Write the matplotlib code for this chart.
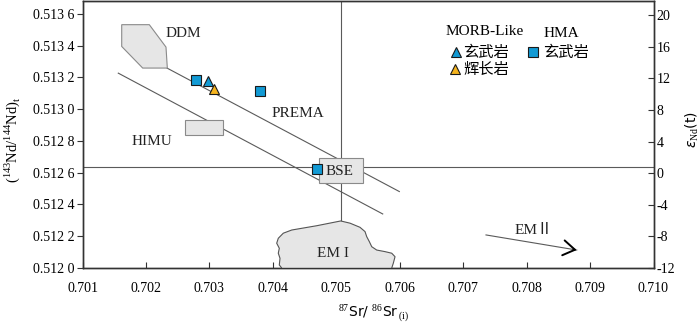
import numpy as np
import matplotlib.pyplot as plt
from matplotlib.patches import Polygon, Rectangle
from matplotlib.ticker import FuncFormatter

plt.rcParams['font.family'] = ['Liberation Serif', 'Noto Sans CJK SC', 'DejaVu Sans']
plt.rcParams['mathtext.fontset'] = 'custom'
plt.rcParams['mathtext.rm'] = 'Liberation Serif'
plt.rcParams['axes.unicode_minus'] = False

# samples
sr_hma = [0.70279, 0.70380, 0.70469]
nd_hma = [0.513182, 0.513113, 0.512622]
sr_morb_basalt = [0.70298]
nd_morb_basalt = [0.513176]
sr_morb_gabbro = [0.70308]
nd_morb_gabbro = [0.513126]

# reference fields
ddm_sr = [0.701618, 0.702053, 0.702316, 0.702337, 0.701949, 0.701618]
ddm_nd = [0.513531, 0.513531, 0.513390, 0.513258, 0.513258, 0.513394]
himu_sr = [0.702608, 0.703219]
himu_nd = [0.512836, 0.512929]
bse_sr = [0.704728, 0.705426]
bse_nd = [0.512534, 0.512691]
em1_sr = [0.704140, 0.704102, 0.704113, 0.704086, 0.704102, 0.704061, 0.704086,
          0.704165, 0.704298, 0.704692, 0.705070, 0.705217, 0.705374, 0.705453,
          0.705480, 0.705521, 0.705559, 0.705637, 0.705768, 0.705874, 0.705926,
          0.705899, 0.705874]
em1_nd = [0.512000, 0.512019, 0.512061, 0.512093, 0.512124, 0.512156, 0.512187,
          0.512219, 0.512239, 0.512266, 0.512296, 0.512282, 0.512256, 0.512229,
          0.512197, 0.512166, 0.512134, 0.512113, 0.512103, 0.512093, 0.512071,
          0.512030, 0.512000]
upper_sr = [0.702332, 0.705994]
upper_nd = [0.513258, 0.512481]
lower_sr = [0.701564, 0.705732]
lower_nd = [0.513226, 0.512340]
bse_line_sr = 0.70507
bse_line_nd = 0.512633
em2_sr = [0.707360, 0.708790]
em2_nd = [0.512208, 0.512113]

blue = '#129ad4'
yellow = '#f5b41e'
gray_fill = '#e6e6e6'
gray_edge = '#8a8a8a'
line_c = '#5a5a5a'

fig = plt.figure(figsize=(7, 3.26), dpi=100)
ax = fig.add_axes([82.5 / 700, 58 / 326, 571 / 700, 267 / 326])
ax.set_xlim(0.701, 0.710)
ax.set_ylim(0.512, 0.51368)

# mantle array lines
ax.plot(upper_sr, upper_nd, color=line_c, lw=0.8, zorder=2)
ax.plot(lower_sr, lower_nd, color=line_c, lw=0.8, zorder=2)
ax.axhline(bse_line_nd, color=line_c, lw=0.8, zorder=2)
ax.plot([bse_line_sr, bse_line_sr], [0.51368, em1_nd[10]], color=line_c, lw=0.8, zorder=2)

# fields
ax.add_patch(Polygon(np.column_stack([ddm_sr, ddm_nd]), closed=True,
                     fc=gray_fill, ec=gray_edge, lw=0.8, zorder=3))
ax.add_patch(Rectangle((himu_sr[0], himu_nd[0]), himu_sr[1] - himu_sr[0],
                       himu_nd[1] - himu_nd[0], fc=gray_fill, ec=gray_edge, lw=0.8, zorder=3))
ax.add_patch(Rectangle((bse_sr[0], bse_nd[0]), bse_sr[1] - bse_sr[0],
                       bse_nd[1] - bse_nd[0], fc=gray_fill, ec=gray_edge, lw=0.8, zorder=3))
ax.add_patch(Polygon(np.column_stack([em1_sr, em1_nd]), closed=False,
                     fc=gray_fill, ec='#555555', lw=0.8, zorder=3, clip_on=False))

# EM II arrow
ax.plot(em2_sr, em2_nd, color=line_c, lw=0.8, zorder=2)
ax.annotate('', xy=(em2_sr[1], em2_nd[1]),
            xytext=(em2_sr[1] - 0.00005, em2_nd[1] + 0.0000033),
            arrowprops=dict(arrowstyle='->,head_length=0.7,head_width=0.45',
                            color='black', lw=1.4, shrinkA=0, shrinkB=0,
                            mutation_scale=12))

# samples
ax.plot(sr_hma, nd_hma, 's', ms=7.5, mfc=blue, mec='#1a1a1a', mew=0.8, zorder=5)
ax.plot(sr_morb_basalt, nd_morb_basalt, '^', ms=7.5, mfc=blue, mec='#1a1a1a', mew=0.8, zorder=5)
ax.plot(sr_morb_gabbro, nd_morb_gabbro, '^', ms=7.5, mfc=yellow, mec='#1a1a1a', mew=0.8, zorder=5)

# field labels
lab = dict(fontsize=11, ha='center', va='center', color='#222222', zorder=6)
ax.text(0.702589, 0.513478, 'DDM', **lab)
ax.text(0.704402, 0.512974, 'PREMA', **lab)
ax.text(0.702091, 0.512796, 'HIMU', **lab)
ax.text(0.705048, 0.512607, 'BSE', **lab)
ax.text(0.704944, 0.512093, 'EM I', **lab)
ax.text(0.708106, 0.512239, 'EMⅡ', **lab)

# legend block
ax.text(0.705, 0.885, 'MORB-Like', transform=ax.transAxes, fontsize=11, ha='center', va='center')
ax.text(0.839, 0.879, 'HMA', transform=ax.transAxes, fontsize=11, ha='center', va='center')
ax.plot([0.654], [0.808], '^', ms=6.5, mfc=blue, mec='#1a1a1a', mew=0.8, transform=ax.transAxes, clip_on=False)
ax.plot([0.652], [0.745], '^', ms=6.5, mfc=yellow, mec='#1a1a1a', mew=0.8, transform=ax.transAxes, clip_on=False)
ax.plot([0.789], [0.808], 's', ms=6.5, mfc=blue, mec='#1a1a1a', mew=0.8, transform=ax.transAxes, clip_on=False)
cjk = dict(transform=ax.transAxes, fontsize=11, ha='left', va='center',
           family=['Noto Sans CJK SC', 'DejaVu Sans'])
ax.text(0.667, 0.808, '玄武岩', **cjk)
ax.text(0.667, 0.745, '辉长岩', **cjk)
ax.text(0.807, 0.808, '玄武岩', **cjk)

# axes styling
for s in ax.spines.values():
    s.set_color('#333333')
    s.set_linewidth(1.0)
ax.set_xticks(np.arange(0.701, 0.7101, 0.001))
ax.xaxis.set_major_formatter(FuncFormatter(lambda v, p: f'{v:.3f}'))
ax.set_yticks(np.arange(0.5120, 0.51361, 0.0002))
ax.yaxis.set_major_formatter(FuncFormatter(lambda v, p: f'{v:.4f}'[:5] + ' ' + f'{v:.4f}'[5:]))
ax.tick_params(axis='x', direction='in', length=4, pad=10, labelsize=10, color='#333333')
ax.tick_params(axis='y', direction='out', length=4, pad=1.5, labelsize=10, color='#333333')

ax2 = ax.twinx()
ax2.set_ylim(-12, 21.8)
ax2.set_yticks(np.arange(-12, 21, 4))
ax2.tick_params(axis='y', direction='in', length=4, pad=2, labelsize=10, color='#333333')
for s in ax2.spines.values():
    s.set_color('#333333')
    s.set_linewidth(1.0)

fig.text(12 / 700, 1 - 140 / 326, r'$(^{143}\mathrm{Nd}/^{144}\mathrm{Nd})_{\mathrm{t}}$',
         rotation=90, ha='center', va='center', fontsize=10.5)
fig.text(692 / 700, 1 - 130 / 326, r'$\varepsilon_{\mathrm{Nd}}$(t)', rotation=90,
         ha='center', va='center', fontsize=10, family='DejaVu Sans')
fig.text(373 / 700, 1 - 313 / 326, r'$^{87}$Sr/ $^{86}$Sr$_{\,\mathrm{(i)}}$',
         ha='center', va='center', fontsize=10, family='DejaVu Sans')

fig.savefig('out.png', dpi=100)
